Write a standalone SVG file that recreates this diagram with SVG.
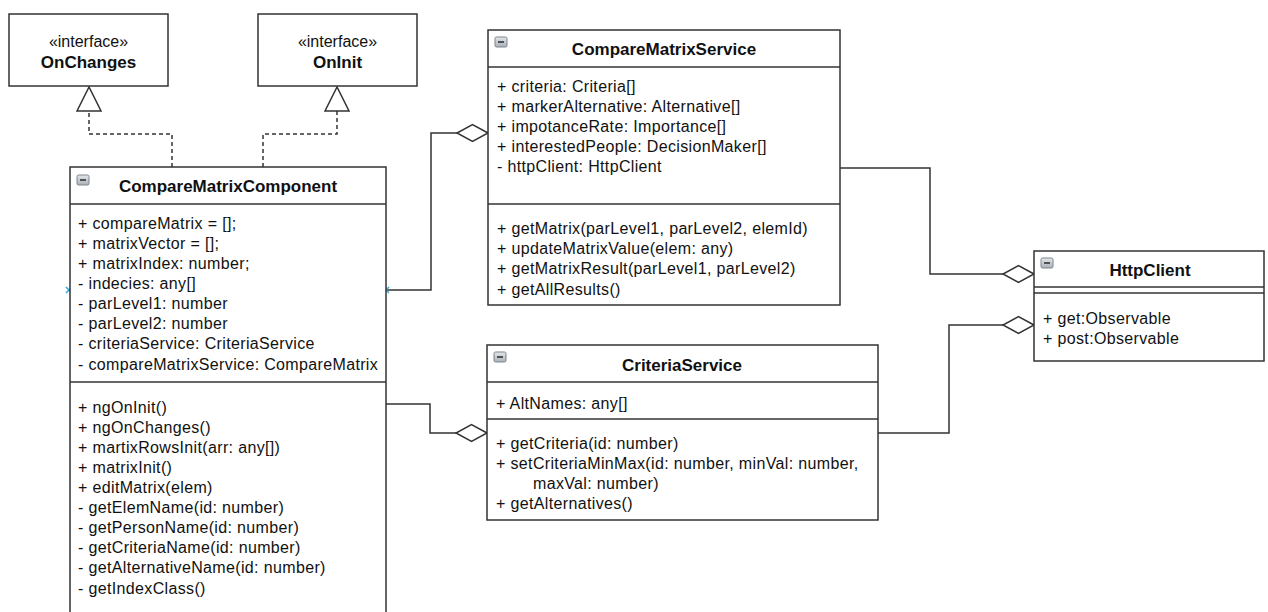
<svg xmlns="http://www.w3.org/2000/svg" width="1268" height="612" viewBox="0 0 1268 612">
  <defs>
    <style>
      .box { fill: #ffffff; stroke: #333333; stroke-width: 1.5; }
      .sep { stroke: #333333; stroke-width: 1.5; fill: none; }
      .txt { font-family: "Liberation Sans", Arial, sans-serif; font-size: 16px; letter-spacing: 0.35px; fill: #111111; }
      .title { font-family: "Liberation Sans", Arial, sans-serif; font-size: 17px; font-weight: bold; fill: #111111; text-anchor: middle; }
      .stereo { font-family: "Liberation Sans", Arial, sans-serif; font-size: 16px; fill: #111111; text-anchor: middle; }
      .edge { fill: none; stroke: #333333; stroke-width: 1.5; }
      .dash { fill: none; stroke: #333333; stroke-width: 1.5; stroke-dasharray: 4 3; }
      .tri { fill: #ffffff; stroke: #333333; stroke-width: 1.5; }
      .dia { fill: #ffffff; stroke: #333333; stroke-width: 1.5; }
      .pt { stroke: #2ba6de; stroke-width: 1.5; }
    </style>
    <linearGradient id="btnFill" x1="0" y1="0" x2="0" y2="1">
      <stop offset="0" stop-color="#e4e7ea"/>
      <stop offset="1" stop-color="#a9b0b7"/>
    </linearGradient>
    <!-- collapse toggle shown in each class header -->
    <g id="toggle">
      <rect x="0" y="0" width="12" height="10" rx="1.5" fill="url(#btnFill)" stroke="#7d858c" stroke-width="1"/>
      <line x1="3" y1="5" x2="9" y2="5" stroke="#333" stroke-width="1.6"/>
    </g>
  </defs>

  <rect width="1268" height="612" fill="#ffffff"/>

  <!-- connectors -->
  <g id="connectors">
    <!-- realizations -->
    <path class="dash" d="M172,167 V134 H89 V111"/>
    <polygon class="tri" points="89,87 77,111 101,111"/>
    <path class="dash" d="M263,167 V134 H337 V111"/>
    <polygon class="tri" points="337,87 325,111 349,111"/>
    <!-- aggregations -->
    <path class="edge" d="M386,290 H431 V133 H457"/>
    <polygon class="dia" points="488,133 472.5,124.5 457,133 472.5,141.5"/>
    <path class="edge" d="M386,404 H430 V433 H456"/>
    <polygon class="dia" points="487,433 471.5,424.5 456,433 471.5,441.5"/>
    <path class="edge" d="M840,168 H930 V274 H1003"/>
    <polygon class="dia" points="1034,274 1018.5,265.5 1003,274 1018.5,282.5"/>
    <path class="edge" d="M878,433 H949 V325 H1003"/>
    <polygon class="dia" points="1034,325 1018.5,316.5 1003,325 1018.5,333.5"/>
    <!-- connection point markers -->
    <path class="pt" d="M66,287 L72,293 M72,287 L66,293"/>
    <path class="pt" d="M383,287 L389,293 M389,287 L383,293"/>
  </g>

  <!-- interface OnChanges -->
  <g id="OnChanges">
    <rect class="box" x="9" y="14" width="159" height="72"/>
    <text class="stereo" x="88.5" y="47">«interface»</text>
    <text class="title" x="88.5" y="68">OnChanges</text>
  </g>

  <!-- interface OnInit -->
  <g id="OnInit">
    <rect class="box" x="258" y="14" width="159" height="72"/>
    <text class="stereo" x="337.5" y="47">«interface»</text>
    <text class="title" x="337.5" y="68">OnInit</text>
  </g>

  <!-- CompareMatrixComponent -->
  <g id="CompareMatrixComponent">
    <rect class="box" x="70" y="167" width="316" height="460"/>
    <line class="sep" x1="70" y1="204" x2="386" y2="204"/>
    <line class="sep" x1="70" y1="382" x2="386" y2="382"/>
    <use href="#toggle" x="77" y="175"/>
    <text class="title" x="228" y="192">CompareMatrixComponent</text>
    <text class="txt" x="78" y="229">+ compareMatrix = [];</text>
    <text class="txt" x="78" y="249">+ matrixVector = [];</text>
    <text class="txt" x="78" y="269">+ matrixIndex: number;</text>
    <text class="txt" x="78" y="289">- indecies: any[]</text>
    <text class="txt" x="78" y="309">- parLevel1: number</text>
    <text class="txt" x="78" y="329">- parLevel2: number</text>
    <text class="txt" x="78" y="349">- criteriaService: CriteriaService</text>
    <text class="txt" x="78" y="370">- compareMatrixService: CompareMatrix</text>
    <text class="txt" x="78" y="413">+ ngOnInit()</text>
    <text class="txt" x="78" y="433">+ ngOnChanges()</text>
    <text class="txt" x="78" y="453">+ martixRowsInit(arr: any[])</text>
    <text class="txt" x="78" y="473">+ matrixInit()</text>
    <text class="txt" x="78" y="493">+ editMatrix(elem)</text>
    <text class="txt" x="78" y="513">- getElemName(id: number)</text>
    <text class="txt" x="78" y="533">- getPersonName(id: number)</text>
    <text class="txt" x="78" y="553">- getCriteriaName(id: number)</text>
    <text class="txt" x="78" y="573">- getAlternativeName(id: number)</text>
    <text class="txt" x="78" y="594">- getIndexClass()</text>
  </g>

  <!-- CompareMatrixService -->
  <g id="CompareMatrixService">
    <rect class="box" x="488" y="30" width="352" height="275"/>
    <line class="sep" x1="488" y1="67" x2="840" y2="67"/>
    <line class="sep" x1="488" y1="204" x2="840" y2="204"/>
    <use href="#toggle" x="495" y="37"/>
    <text class="title" x="664" y="55">CompareMatrixService</text>
    <text class="txt" x="497" y="92">+ criteria: Criteria[]</text>
    <text class="txt" x="497" y="112">+ markerAlternative: Alternative[]</text>
    <text class="txt" x="497" y="132">+ impotanceRate: Importance[]</text>
    <text class="txt" x="497" y="152">+ interestedPeople: DecisionMaker[]</text>
    <text class="txt" x="497" y="172">- httpClient: HttpClient</text>
    <text class="txt" x="497" y="234">+ getMatrix(parLevel1, parLevel2, elemId)</text>
    <text class="txt" x="497" y="254">+ updateMatrixValue(elem: any)</text>
    <text class="txt" x="497" y="274">+ getMatrixResult(parLevel1, parLevel2)</text>
    <text class="txt" x="497" y="295">+ getAllResults()</text>
  </g>

  <!-- CriteriaService -->
  <g id="CriteriaService">
    <rect class="box" x="487" y="345" width="391" height="175"/>
    <line class="sep" x1="487" y1="382" x2="878" y2="382"/>
    <line class="sep" x1="487" y1="419" x2="878" y2="419"/>
    <use href="#toggle" x="494" y="352"/>
    <text class="title" x="682" y="371">CriteriaService</text>
    <text class="txt" x="496" y="409">+ AltNames: any[]</text>
    <text class="txt" x="496" y="449">+ getCriteria(id: number)</text>
    <text class="txt" x="496" y="469">+ setCriteriaMinMax(id: number, minVal: number,</text>
    <text class="txt" x="533" y="489">maxVal: number)</text>
    <text class="txt" x="496" y="509">+ getAlternatives()</text>
  </g>

  <!-- HttpClient -->
  <g id="HttpClient">
    <rect class="box" x="1034" y="251" width="230" height="110"/>
    <line class="sep" x1="1034" y1="287" x2="1264" y2="287"/>
    <line class="sep" x1="1034" y1="293" x2="1264" y2="293"/>
    <use href="#toggle" x="1041" y="258"/>
    <text class="title" x="1150" y="276">HttpClient</text>
    <text class="txt" x="1043" y="324">+ get:Observable</text>
    <text class="txt" x="1043" y="344">+ post:Observable</text>
  </g>
</svg>
